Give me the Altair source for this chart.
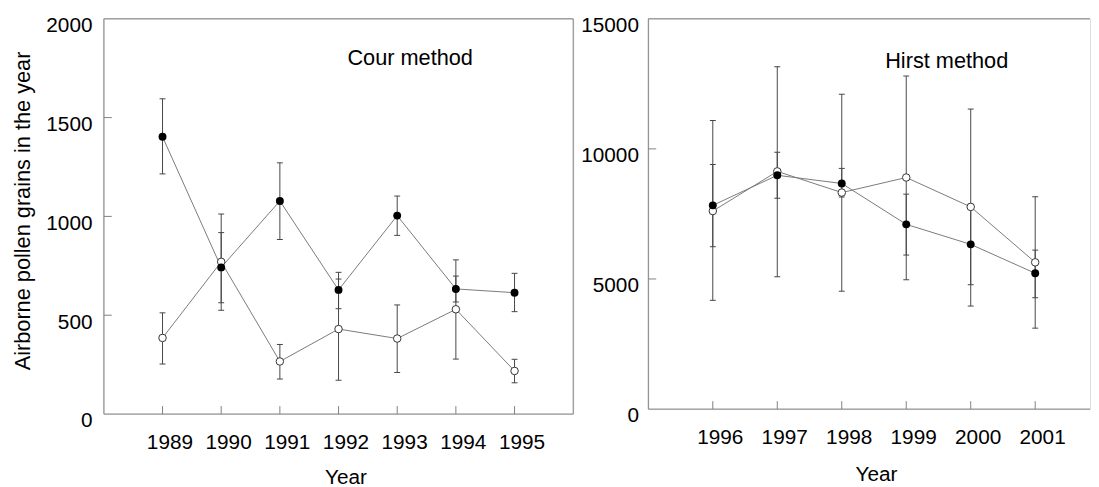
import altair as alt
import pandas as pd

# ---- Cour method (left panel) ----
cour_years = [1989, 1990, 1991, 1992, 1993, 1994, 1995]
cour_filled = [1403, 742, 1078, 628, 1004, 633, 614]
cour_filled_low = [1215, 563, 883, 533, 904, 567, 518]
cour_filled_high = [1595, 918, 1271, 717, 1103, 698, 712]
cour_open = [385, 770, 266, 430, 382, 530, 218]
cour_open_low = [253, 525, 177, 171, 210, 278, 158]
cour_open_high = [512, 1012, 352, 683, 552, 780, 277]
cour_yticks = [0, 500, 1000, 1500, 2000]
cour_inner_yticks = [500, 1000, 1500]

# ---- Hirst method (right panel) ----
hirst_years = [1996, 1997, 1998, 1999, 2000, 2001]
hirst_filled = [7830, 8985, 8670, 7100, 6330, 5220]
hirst_filled_low = [6240, 8100, 8150, 5920, 4780, 4280]
hirst_filled_high = [9400, 9870, 9250, 8260, 7870, 6110]
hirst_open = [7610, 9135, 8320, 8900, 7770, 5640]
hirst_open_low = [4180, 5090, 4530, 4970, 3960, 3110]
hirst_open_high = [11090, 13160, 12100, 12800, 11530, 8160]
hirst_yticks = [0, 5000, 10000, 15000]
hirst_inner_yticks = [5000, 10000]

FONT = "Liberation Sans"
FRAME = "#808080"
LINE = "#7a7a7a"
BAR = "#454545"


def panel(years, f, fl, fh, o, ol, oh, xdom, ydom, yticks, inner, w, h,
          label, lx, ly, ytitle, right_border, title_y):
    df_f = pd.DataFrame({"year": years, "value": f, "low": fl, "high": fh})
    df_o = pd.DataFrame({"year": years, "value": o, "low": ol, "high": oh})
    xs = alt.Scale(domain=xdom, nice=False, zero=False)
    ys = alt.Scale(domain=ydom, nice=False, zero=False)

    xaxis = alt.Axis(values=years, format="d", ticks=False, tickSize=0,
                     domain=False, grid=False, labelFontSize=21, labelOffset=7,
                     labelPadding=18, labelFlush=False, labelOverlap=False,
                     title="Year", titleFontSize=21, titleFontWeight="normal",
                     titleX=w / 2 + 7, titleY=title_y,
                     titleBaseline="alphabetic")
    yaxis_kw = dict(values=yticks, format="d", ticks=False, tickSize=0,
                    domain=False, grid=False, labelFontSize=21, labelOffset=7,
                    labelPadding=12 if ytitle else 10, labelOverlap=False)
    if ytitle:
        yaxis = alt.Axis(title=ytitle, titleFontSize=22,
                         titleFontWeight="normal", titleAngle=270,
                         titleX=-75, titleY=h / 2 - 6,
                         titleBaseline="alphabetic", titleAlign="center",
                         **yaxis_kw)
    else:
        yaxis = alt.Axis(title=None, **yaxis_kw)

    xq = lambda fld: alt.X(fld, type="quantitative", scale=xs, axis=xaxis)
    yq = lambda fld: alt.Y(fld, type="quantitative", scale=ys, axis=yaxis)

    one = alt.Data(values=[{"k": 0}])
    layers = []
    # frame
    layers.append(alt.Chart(one).mark_rule(color=FRAME, strokeWidth=1).encode(
        x=alt.value(0), x2=alt.value(w), y=alt.value(0)))
    layers.append(alt.Chart(one).mark_rule(color=FRAME, strokeWidth=1).encode(
        x=alt.value(0), x2=alt.value(w), y=alt.value(h)))
    layers.append(alt.Chart(one).mark_rule(color=FRAME, strokeWidth=1).encode(
        x=alt.value(0), y=alt.value(0), y2=alt.value(h)))
    if right_border:
        layers.append(alt.Chart(one).mark_rule(color=FRAME, strokeWidth=1).encode(
            x=alt.value(w), y=alt.value(0), y2=alt.value(h)))
    # inner ticks
    layers.append(alt.Chart(pd.DataFrame({"t": inner})).mark_rule(
        color=FRAME, strokeWidth=1).encode(
        y=yq("t"), x=alt.value(0), x2=alt.value(8)))
    layers.append(alt.Chart(pd.DataFrame({"t": years})).mark_rule(
        color=FRAME, strokeWidth=1).encode(
        x=xq("t"), y=alt.value(h - 8), y2=alt.value(h)))
    # connecting lines
    layers.append(alt.Chart(df_o).mark_line(color=LINE, strokeWidth=1).encode(
        x=xq("year"), y=yq("value")))
    layers.append(alt.Chart(df_f).mark_line(color=LINE, strokeWidth=1).encode(
        x=xq("year"), y=yq("value")))
    # error bars
    for d in (df_o, df_f):
        layers.append(alt.Chart(d).mark_rule(color=BAR, strokeWidth=1).encode(
            x=xq("year"), y=yq("low"), y2="high"))
        for fld in ("low", "high"):
            layers.append(alt.Chart(d).mark_tick(
                orient="horizontal", size=6, thickness=1, color=BAR,
                opacity=1).encode(x=xq("year"), y=yq(fld)))
    # points
    layers.append(alt.Chart(df_o).mark_circle(
        fill="white", stroke="#333333", strokeWidth=1, size=58,
        opacity=1).encode(x=xq("year"), y=yq("value")))
    layers.append(alt.Chart(df_f).mark_circle(
        color="black", size=64, opacity=1).encode(x=xq("year"), y=yq("value")))
    # annotation
    layers.append(alt.Chart(alt.Data(values=[{"label": label}])).mark_text(
        fontSize=22, font=FONT, color="black", align="center",
        baseline="alphabetic").encode(
        x=alt.value(lx), y=alt.value(ly), text="label:N"))
    return alt.layer(*layers).properties(width=w, height=h)


left = panel(cour_years, cour_filled, cour_filled_low, cour_filled_high,
             cour_open, cour_open_low, cour_open_high,
             [1988, 1996], [0, 2000], cour_yticks, cour_inner_yticks,
             475, 400, "Cour method", 310, 47,
             "Airborne pollen grains in the year", True, 70)

right = panel(hirst_years, hirst_filled, hirst_filled_low, hirst_filled_high,
              hirst_open, hirst_open_low, hirst_open_high,
              [1995, 2001.85], [0, 15000], hirst_yticks, hirst_inner_yticks,
              447, 395, "Hirst method", 302, 50, None, False, 72)

chart = alt.hconcat(left, right, spacing=6).properties(
    padding={"left": 3, "top": 3, "right": 0, "bottom": 0}
).configure_view(stroke=None).configure(font=FONT).configure_axis(
    labelColor="black", titleColor="black", labelFont=FONT, titleFont=FONT)

chart.save("out.html", embed_options={"renderer": "svg", "actions": False})
